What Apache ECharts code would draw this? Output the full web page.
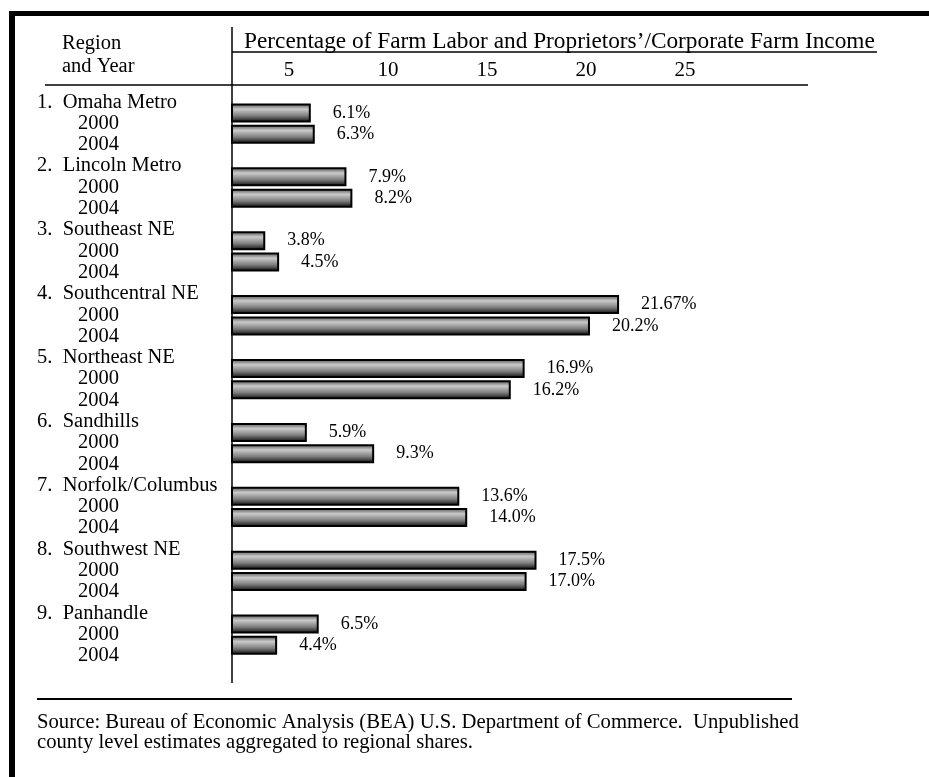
<!DOCTYPE html>
<html>
<head>
<meta charset="utf-8">
<script src="https://cdn.jsdelivr.net/npm/echarts@6/dist/echarts.min.js"></script>
<style>
  html, body { margin: 0; padding: 0; background: #fff; }
  #chart { width: 929px; height: 777px; }
</style>
</head>
<body>
<div id="chart"></div>
<script>
// ---- data ----
var regions = ['1.  Omaha Metro', '2.  Lincoln Metro', '3.  Southeast NE', '4.  Southcentral NE',
  '5.  Northeast NE', '6.  Sandhills', '7.  Norfolk/Columbus', '8.  Southwest NE', '9.  Panhandle'];
var years = ['2000', '2004'];
var values2000 = [6.1, 7.9, 3.8, 21.67, 16.9, 5.9, 13.6, 17.5, 6.5];
var values2004 = [6.3, 8.2, 4.5, 20.2, 16.2, 9.3, 14.0, 17.0, 4.4];
var tickValues = [5, 10, 15, 20, 25];
var axisTitle = 'Percentage of Farm Labor and Proprietors\u2019/Corporate Farm Income';
var sourceLines = ['Source: Bureau of Economic Analysis (BEA) U.S. Department of Commerce.  Unpublished',
  'county level estimates aggregated to regional shares.'];

// ---- build rows: region header, 2000, 2004 ----
var rowKeys = [], rowVals = [];
regions.forEach(function (r, i) {
  rowKeys.push('R|' + r); rowVals.push('-');
  rowKeys.push('Y|' + years[0] + '|' + i); rowVals.push(values2000[i]);
  rowKeys.push('Y|' + years[1] + '|' + i); rowVals.push(values2004[i]);
});

var FONT = '"Liberation Serif", "Times New Roman", serif';
var chart = echarts.init(document.getElementById('chart'));

function fmt(v) {
  var t = v * 10;
  return (Math.abs(Math.round(t) - t) < 1e-6 ? v.toFixed(1) : v.toFixed(2)) + '%';
}

chart.setOption({
  animation: false,
  backgroundColor: '#fff',
  grid: { left: 232, right: 145, top: 81, bottom: 121 },
  xAxis: {
    type: 'value', position: 'top', min: 2.12, max: 30,
    axisLine: { show: false }, axisTick: { show: false }, splitLine: { show: false },
    axisLabel: { customValues: tickValues, margin: 0, color: '#000', fontFamily: FONT, fontSize: 21 }
  },
  yAxis: {
    type: 'category', inverse: true, data: rowKeys,
    axisLine: { show: false }, axisTick: { show: false }, splitLine: { show: false },
    axisLabel: {
      interval: 0, align: 'left', margin: 195, padding: [21, 0, 0, 0],
      color: '#000', fontFamily: FONT, fontSize: 20.5,
      formatter: function (k) {
        var p = k.split('|');
        return p[0] === 'R' ? '{r|' + p[1] + '}' : '{y|' + p[1] + '}';
      },
      rich: {
        r: { fontFamily: FONT, fontSize: 20.5, color: '#000' },
        y: { fontFamily: FONT, fontSize: 20.5, color: '#000', padding: [0, 0, 0, 41] }
      }
    }
  },
  series: [{
    type: 'bar', data: rowVals, barWidth: 19,
    itemStyle: {
      borderColor: '#000', borderWidth: 2,
      color: {
        type: 'linear', x: 0, y: 0, x2: 0, y2: 1,
        colorStops: [
          { offset: 0, color: '#4a4a4a' },
          { offset: 0.3, color: '#cacaca' },
          { offset: 0.65, color: '#7e7e7e' },
          { offset: 1, color: '#080808' }
        ]
      }
    },
    label: {
      show: true, position: 'right', distance: 22,
      color: '#000', fontFamily: FONT, fontSize: 18,
      formatter: function (p) { return fmt(p.value); }
    }
  }],
  graphic: [
    { type: 'rect', shape: { x: 9, y: 11, width: 920, height: 5 }, style: { fill: '#000' } },
    { type: 'rect', shape: { x: 9, y: 11, width: 6, height: 766 }, style: { fill: '#000' } },
    { type: 'text', x: 62, y: 44, style: { text: 'Region', font: '20.5px ' + FONT, fill: '#000', verticalAlign: 'middle' } },
    { type: 'text', x: 62, y: 67, style: { text: 'and Year', font: '20.5px ' + FONT, fill: '#000', verticalAlign: 'middle' } },
    { type: 'text', x: 244, y: 42, style: { text: axisTitle, font: '23.3px ' + FONT, fill: '#000', verticalAlign: 'middle' } },
    { type: 'line', shape: { x1: 232, y1: 52, x2: 877, y2: 52 }, style: { stroke: '#000', lineWidth: 1.5 } },
    { type: 'line', shape: { x1: 45, y1: 85, x2: 808, y2: 85 }, style: { stroke: '#000', lineWidth: 1.5 } },
    { type: 'line', shape: { x1: 232, y1: 27, x2: 232, y2: 683 }, style: { stroke: '#000', lineWidth: 1.5 } },
    { type: 'line', shape: { x1: 37, y1: 699, x2: 792, y2: 699 }, style: { stroke: '#000', lineWidth: 2 } },
    { type: 'text', x: 37, y: 723, style: { text: sourceLines[0], font: '20.7px ' + FONT, fill: '#000', verticalAlign: 'middle' } },
    { type: 'text', x: 37, y: 743, style: { text: sourceLines[1], font: '20.7px ' + FONT, fill: '#000', verticalAlign: 'middle' } }
  ]
});
</script>
</body>
</html>
